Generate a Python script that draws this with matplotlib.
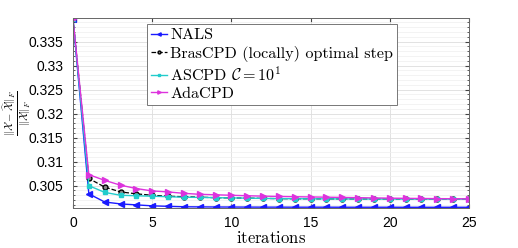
import numpy as np
import matplotlib
matplotlib.use("Agg")
import matplotlib.pyplot as plt
from matplotlib.ticker import MultipleLocator

plt.rcParams["mathtext.fontset"] = "cm"
plt.rcParams["font.family"] = ["Liberation Sans", "DejaVu Sans"]

iters = np.arange(0, 26)

# relative error per iteration
nals = [0.3397, 0.3033, 0.3016, 0.3012, 0.3010, 0.3008, 0.3007, 0.3006, 0.30058, 0.30056,
        0.30055, 0.30054, 0.30053, 0.30053, 0.30052, 0.30052, 0.30052, 0.30051, 0.30051,
        0.30051, 0.30051, 0.30050, 0.30050, 0.30050, 0.30050, 0.30050]
bras = [0.3397, 0.3065, 0.3047, 0.3037, 0.3033, 0.3030, 0.3028, 0.3027, 0.3026, 0.3025,
        0.30245, 0.3024, 0.30235, 0.3023, 0.30228, 0.30226, 0.30225, 0.30224, 0.30223,
        0.30222, 0.30222, 0.30221, 0.30221, 0.3022, 0.3022, 0.3022]
ascpd = [0.3397, 0.3050, 0.3036, 0.3030, 0.3029, 0.3028, 0.3027, 0.3026, 0.30255, 0.3025,
         0.30245, 0.3024, 0.30235, 0.3023, 0.30228, 0.30226, 0.30225, 0.30224, 0.30223,
         0.30222, 0.30222, 0.30221, 0.30221, 0.3022, 0.3022, 0.3022]
ada = [0.3397, 0.3073, 0.3061, 0.3051, 0.3044, 0.3039, 0.3037, 0.3034, 0.3032, 0.3031,
       0.3030, 0.3029, 0.30282, 0.30275, 0.3027, 0.30265, 0.3026, 0.30255, 0.3025,
       0.30245, 0.3024, 0.30236, 0.30233, 0.3023, 0.30228, 0.30225]

labels = ["NALS", "BrasCPD (locally) optimal step",
          r"ASCPD $\mathcal{C} = 10^1$", "AdaCPD"]

fig = plt.figure(figsize=(5.18, 2.48), dpi=100)
ax = fig.add_axes([73 / 518, 1 - 208 / 248, 396 / 518, 190 / 248])

ax.plot(iters, nals, color="#1a1aff", marker="<", ms=4, lw=1, label=labels[0])
ax.plot(iters, bras, color="black", ls="--", marker="o", ms=3.5, mfc="#888888",
        lw=0.9, label=labels[1])
ax.plot(iters, ascpd, color="#22cccc", marker="s", ms=3.5, lw=1, label=labels[2])
ax.plot(iters, ada, color="#dd33dd", marker=">", ms=4, lw=1, label=labels[3])

ax.set_xlim(0, 25)
ax.set_ylim(0.30035, 0.3399)
ax.xaxis.set_major_locator(MultipleLocator(5))
ax.yaxis.set_minor_locator(MultipleLocator(0.001))
ax.set_yticks([0.305, 0.31, 0.315, 0.32, 0.325, 0.33, 0.335])
ax.set_yticklabels(["0.305", "0.31", "0.315", "0.32", "0.325", "0.33", "0.335"])
ax.tick_params(which="both", direction="in", top=True, right=True, labelsize=10,
               color="#444444")
ax.tick_params(axis="y", which="major", length=3, pad=7)
ax.tick_params(axis="x", which="major", length=3, pad=6)
ax.tick_params(which="minor", length=1.5)
ax.grid(True, which="major", color="#dddddd", lw=0.6)
ax.grid(True, which="minor", color="#eeeeee", lw=0.5)
for s in ax.spines.values():
    s.set_color("#666666")
    s.set_linewidth(0.7)

ax.set_xlabel(r"$\mathrm{iterations}$", fontsize=12, labelpad=0)
fig.text(17 / 518, 0.5 * (1 - 18 / 248 + 1 - 208 / 248),
         r"$\frac{\|\mathcal{X}-\widehat{\mathcal{X}}\|_F}{\|\mathcal{X}\|_F}$",
         fontsize=11, rotation=90, ha="center", va="center")

leg = ax.legend(loc="upper left", bbox_to_anchor=((147 - 73) / 396, (208 - 24) / 190),
                prop={"family": "cmr10", "size": 11.6}, handlelength=1.0,
                handletextpad=0.2, borderpad=0.25, labelspacing=0.2, borderaxespad=0,
                fancybox=False, framealpha=1, edgecolor="#777777", markerscale=0.6)
leg.get_frame().set_linewidth(0.7)

fig.savefig("out.png", dpi=100)
